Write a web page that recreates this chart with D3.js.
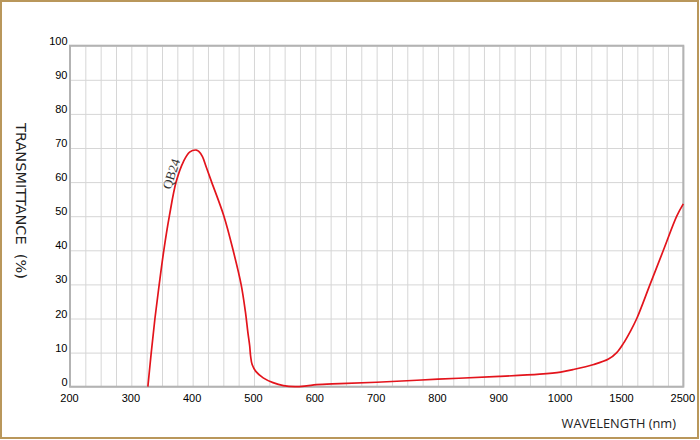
<!DOCTYPE html>
<html><head><meta charset="utf-8">
<script src="https://cdn.jsdelivr.net/npm/d3@7"></script>
<style>
html,body{margin:0;padding:0;background:#fff;}
svg{display:block;}
</style></head>
<body>
<script>
// ---- data ----
const xTickValues = [200,300,400,500,600,700,800,900,1000,1500,2500];
const yTickValues = [0,10,20,30,40,50,60,70,80,90,100];
const seriesName = "QB24";
const wavelength = [327,332.5,338.5,345.5,353,362,373,385,395,406,410,416,422,431,451,466,479,486,490,493,494.5,497,503,515,531,548,567,586,602,640,700,800,900,966,1000,1100,1270,1390,1457,1523,1632,1741,1958,2175,2393,2500];
const transmittance = [0,10,20,30,40,50,60,66,68.8,69.4,69.0,67.5,64.5,60,50,40,30,22,16,12,9,6.5,4.5,2.6,1.2,0.3,0,0.25,0.6,0.9,1.3,2.2,3.0,3.7,4.3,5.0,6.5,8.1,10,12.7,16.1,20,30,40,50,53.6];
const xTitle = "WAVELENGTH (nm)";
const yTitle = "TRANSMITTANCE\u00a0\u00a0(%)";

const W = 700, H = 440;
const svg = d3.select("body").append("svg").attr("width", W).attr("height", H);
svg.append("rect").attr("x",0).attr("y",0).attr("width",W).attr("height",H).attr("fill","#fff");
svg.append("rect").attr("x",1).attr("y",1).attr("width",W-3).attr("height",H-3)
  .attr("fill","none").attr("stroke","#b9975b").attr("stroke-width",2);

const x = d3.scaleLinear().domain([200,1000,1500,2500]).range([70,560.6,622,683.3]);
const y = d3.scaleLinear().domain([0,100]).range([386.7,45.7]);

// minor grid: each tick interval split in 4
const gridX = [];
for (let i=0;i<xTickValues.length-1;i++){
  const a=xTickValues[i], b=xTickValues[i+1];
  for (let k=0;k<4;k++) gridX.push(a+(b-a)*k/4);
}
gridX.push(xTickValues[xTickValues.length-1]);

const g = svg.append("g");
// vertical grid
g.append("g").attr("transform",`translate(0,${y(0)})`)
  .call(d3.axisBottom(x).tickValues(gridX).tickSize(-(y(0)-y(100))).tickFormat(""))
  .call(s=>s.select(".domain").remove())
  .call(s=>s.selectAll("line").attr("stroke","#d6d6d6").attr("stroke-width",1));
// horizontal grid
g.append("g").attr("transform",`translate(${x(200)},0)`)
  .call(d3.axisLeft(y).tickValues(yTickValues).tickSize(-(x(2500)-x(200))).tickFormat(""))
  .call(s=>s.select(".domain").remove())
  .call(s=>s.selectAll("line").attr("stroke","#d6d6d6").attr("stroke-width",1));

// plot frame
g.append("rect").attr("x",x(200)).attr("y",y(100)).attr("width",x(2500)-x(200)).attr("height",y(0)-y(100))
  .attr("fill","none").attr("stroke","#b3b3b3").attr("stroke-width",2);

// x tick labels
const xa = svg.append("g").attr("transform",`translate(-1,${y(0)})`)
  .call(d3.axisBottom(x).tickValues(xTickValues).tickSize(0).tickPadding(8).tickFormat(d3.format("d")));
xa.select(".domain").remove();
xa.selectAll("text").attr("font-family","'Liberation Sans', Arial, sans-serif").attr("font-size",11).attr("fill","#000");

// y tick labels
const ya = svg.append("g").attr("transform",`translate(${x(200)+0.5},-5)`)
  .call(d3.axisLeft(y).tickValues(yTickValues).tickSize(0).tickPadding(3));
ya.select(".domain").remove();
ya.selectAll("text").attr("font-family","'Liberation Sans', Arial, sans-serif").attr("font-size",11).attr("fill","#000");

// curve
const data = wavelength.map((w,i)=>({w, t: transmittance[i]}));
const line = d3.line().x(d=>x(d.w)).y(d=>y(d.t)).curve(d3.curveCatmullRom.alpha(0.5));
svg.append("path").datum(data).attr("d",line).attr("fill","none")
  .attr("stroke","#e3141c").attr("stroke-width",1.7).attr("stroke-linejoin","round");

// series label
svg.append("text").attr("transform",`translate(${x(372)},${y(62)}) rotate(-72)`)
  .attr("text-anchor","middle").attr("font-family","'Liberation Serif', 'Times New Roman', serif")
  .attr("font-size",13).attr("fill","#333").text(seriesName);

// titles
svg.append("text").attr("x",676).attr("y",428).attr("text-anchor","end")
  .attr("font-family","'Open Sans', sans-serif").attr("font-size",12.8).attr("fill","#222").text(xTitle);
svg.append("text").attr("transform","translate(16,201) rotate(90)")
  .attr("text-anchor","middle").attr("font-family","'DejaVu Sans', sans-serif")
  .attr("font-size",14.5).attr("fill","#222").text(yTitle);
</script>
</body></html>
